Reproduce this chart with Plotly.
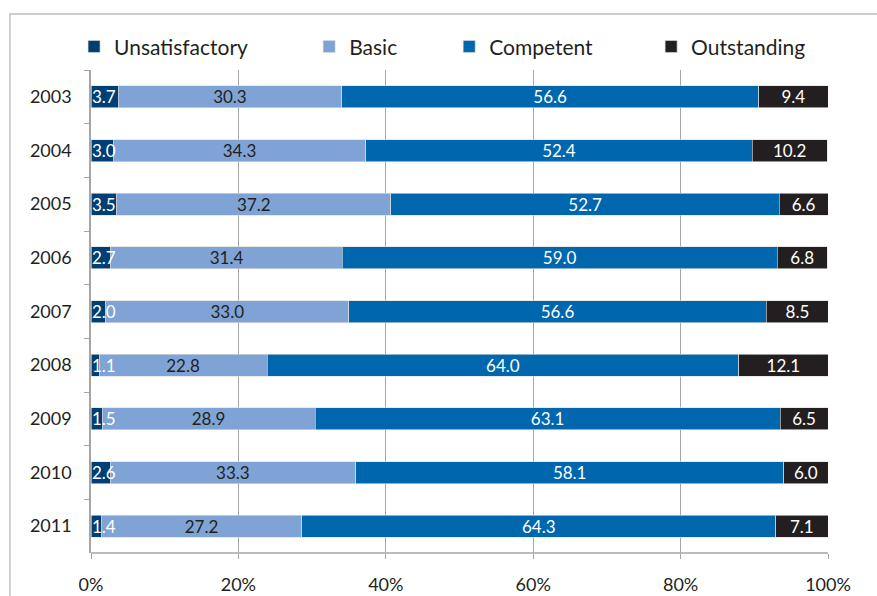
import plotly.graph_objects as go

# Teacher evaluation ratings by year (percent of teachers)
years = ["2003", "2004", "2005", "2006", "2007", "2008", "2009", "2010", "2011"]
unsatisfactory = [3.7, 3.0, 3.5, 2.7, 2.0, 1.1, 1.5, 2.6, 1.4]
basic = [30.3, 34.3, 37.2, 31.4, 33.0, 22.8, 28.9, 33.3, 27.2]
competent = [56.6, 52.4, 52.7, 59.0, 56.6, 64.0, 63.1, 58.1, 64.3]
outstanding = [9.4, 10.2, 6.6, 6.8, 8.5, 12.1, 6.5, 6.0, 7.1]

x_ticks = [0, 20, 40, 60, 80, 100]
x_tick_labels = ["0%", "20%", "40%", "60%", "80%", "100%"]

FONT = "Lato"
TEXT = "#231f20"
LABEL_SIZE = 17

# name, values, fill, label colour, in-bar label, legend id, legend x
series = [
    ("Unsatisfactory", unsatisfactory, "#003f73", "white", False, "legend", -0.023),
    ("Basic", basic, "#7ea3d4", TEXT, True, "legend2", 0.296),
    ("Competent", competent, "#0066ae", "white", True, "legend3", 0.486),
    ("Outstanding", outstanding, "#231f20", "white", True, "legend4", 0.760),
]

fig = go.Figure()
legend_layout = {}
for name, vals, color, tcolor, inbar, leg, legx in series:
    bar = dict(
        name=name,
        y=years,
        x=vals,
        orientation="h",
        marker=dict(color=color, line=dict(color="rgba(220,220,220,0.8)", width=0.8)),
        legend=leg,
        hoverinfo="skip",
    )
    if inbar:
        bar.update(
            text=[f"{v:.1f}" for v in vals],
            textposition="inside",
            insidetextanchor="middle",
            textangle=0,
            constraintext="none",
            textfont=dict(family=FONT, size=LABEL_SIZE, color=tcolor),
        )
    fig.add_trace(go.Bar(**bar))
    legend_layout[leg] = dict(
        orientation="h",
        x=legx, xanchor="left",
        y=1.048, yanchor="middle",
        font=dict(family=FONT, size=21, color=TEXT),
        bgcolor="rgba(0,0,0,0)",
    )

# Unsatisfactory segments are thin, so their labels start at the bar base and may overflow
for i, v in enumerate(unsatisfactory):
    fig.add_annotation(
        x=0, y=i, xref="x", yref="y",
        text=f"{v:.1f}", showarrow=False,
        xanchor="left", yanchor="middle", xshift=-1,
        font=dict(family=FONT, size=LABEL_SIZE, color="white"),
    )

fig.update_layout(
    barmode="stack",
    bargap=0.59,
    width=877,
    height=596,
    margin=dict(l=91, r=49, t=70, b=43),
    paper_bgcolor="white",
    plot_bgcolor="white",
    font=dict(family=FONT, size=18, color=TEXT),
    showlegend=True,
    **legend_layout,
    xaxis=dict(
        range=[0, 100],
        tickvals=x_ticks,
        ticktext=x_tick_labels,
        showgrid=True,
        gridcolor="#a6a6a6",
        gridwidth=1,
        zeroline=False,
        showline=False,
        ticks="outside",
        ticklen=5,
        tickcolor="#a6a6a6",
        ticklabelstandoff=10,
        tickfont=dict(family=FONT, size=18, color=TEXT),
        automargin=False,
        fixedrange=True,
    ),
    yaxis=dict(
        type="category",
        categoryorder="array",
        categoryarray=years,
        range=[len(years) - 0.5, -0.5],
        showline=True,
        linecolor="#a6a6a6",
        linewidth=1.5,
        ticks="outside",
        tickson="boundaries",
        ticklen=5,
        tickcolor="#a6a6a6",
        ticklabelstandoff=14,
        tickfont=dict(family=FONT, size=18, color=TEXT),
        showgrid=False,
        automargin=False,
        fixedrange=True,
    ),
)

# Bottom axis line of the plot area
fig.add_shape(type="line", xref="paper", yref="paper", x0=0, x1=1, y0=0, y1=0,
              line=dict(color="#a6a6a6", width=1.5))

# Chart frame (top and left edges)
fig.add_shape(type="path", xref="paper", yref="paper",
              path="M -0.11,-0.2 L -0.11,1.116 L 1.2,1.116",
              line=dict(color="#bfbfbf", width=1.5))

fig.write_html("out.html")
